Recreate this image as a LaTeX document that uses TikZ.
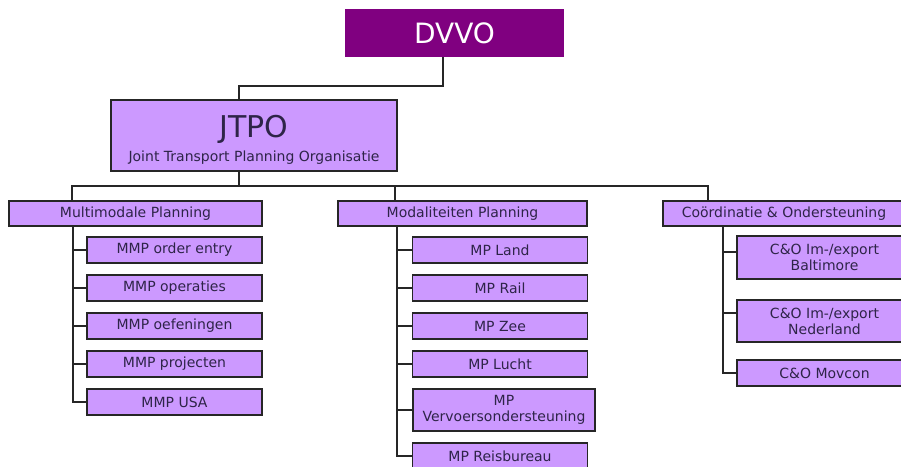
\documentclass[tikz,border=0pt]{standalone}
\usepackage{fontspec}
\setmainfont{DejaVu Sans}
\usepackage{tikz}

\definecolor{dvvopurple}{HTML}{800080}
\definecolor{lila}{HTML}{CC99FF}
\definecolor{ink}{HTML}{2E2448}

\tikzset{
  unit/.style={rectangle, draw=black!85, line width=1.6pt, fill=lila, text=ink,
    inner sep=0pt, align=center, font=\fontsize{14}{16}\selectfont},
  head/.style={unit, minimum height=25},
  sub/.style={unit, minimum width=175, minimum height=26},
  link/.style={draw=black!85, line width=1.6pt},
}

\begin{document}
\begin{tikzpicture}[x=1pt, y=-1pt]
\useasboundingbox (0,0) rectangle (901,466);

\node (dvvo) at (454.5,33) [rectangle, fill=dvvopurple, minimum width=219, minimum height=48,
  text=white, font=\fontsize{28}{30}\selectfont] {DVVO};
\node (jtpo) at (254,135.5) [unit, minimum width=286, minimum height=71]
  {\rule{0pt}{31pt}{\fontsize{30}{30}\selectfont JTPO}\\[7pt]Joint Transport Planning Organisatie};

\draw[link] ([xshift=-11.5]dvvo.south) -- ++(0,29) -| ([xshift=-15]jtpo.north);

\node (mm) at (135.5,213.5) [head, minimum width=253] {Multimodale Planning};
\node (mp) at (462.5,213.5) [head, minimum width=249] {Modaliteiten Planning};
\node (co) at (784,213.5) [head, minimum width=242] {Coördinatie \& Ondersteuning};

\coordinate (bus) at (239,186);
\draw[link] ([xshift=-15]jtpo.south) -- (bus);
\draw[link] ([xshift=-63.5]mm.north) |- (bus) -| ([xshift=-76]co.north);
\draw[link] ([xshift=-67.5]mp.north) |- (bus);

% Multimodale Planning
\node (mm1) at (174.5,250) [sub] {MMP order entry};
\node (mm2) at (174.5,288) [sub] {MMP operaties};
\node (mm3) at (174.5,326) [sub] {MMP oefeningen};
\node (mm4) at (174.5,364) [sub] {MMP projecten};
\node (mm5) at (174.5,402) [sub] {MMP USA};

\draw[link] ([xshift=-62.5]mm.south) |- (mm1.west);
\draw[link] ([xshift=-62.5]mm.south) |- (mm2.west);
\draw[link] ([xshift=-62.5]mm.south) |- (mm3.west);
\draw[link] ([xshift=-62.5]mm.south) |- (mm4.west);
\draw[link] ([xshift=-62.5]mm.south) |- (mm5.west);

% Modaliteiten Planning
\node (mp1) at (500,250) [sub] {MP Land};
\node (mp2) at (500,288) [sub] {MP Rail};
\node (mp3) at (500,326) [sub] {MP Zee};
\node (mp4) at (500,364) [sub] {MP Lucht};
\node (mp5) at (504,410) [sub, minimum width=182, minimum height=42] {MP\\Vervoersondersteuning};
\node (mp6) at (500,456) [sub] {MP Reisbureau};

\draw[link] ([xshift=-65.5]mp.south) |- (mp1.west);
\draw[link] ([xshift=-65.5]mp.south) |- (mp2.west);
\draw[link] ([xshift=-65.5]mp.south) |- (mp3.west);
\draw[link] ([xshift=-65.5]mp.south) |- (mp4.west);
\draw[link] ([xshift=-65.5]mp.south) |- (mp5.west);
\draw[link] ([xshift=-65.5]mp.south) |- (mp6.west);

% Coordinatie & Ondersteuning
\node (co1) at (824.5,257.5) [sub, minimum height=43] {C\&O Im-/export\\Baltimore};
\node (co2) at (824.5,321) [sub, minimum height=42] {C\&O Im-/export\\Nederland};
\node (co3) at (824.5,373) [sub] {C\&O Movcon};

\draw[link] ([xshift=-61]co.south) |- ([yshift=5.5]co1.west);
\draw[link] ([xshift=-61]co.south) |- ([yshift=8]co2.west);
\draw[link] ([xshift=-61]co.south) |- (co3.west);
\end{tikzpicture}
\end{document}
